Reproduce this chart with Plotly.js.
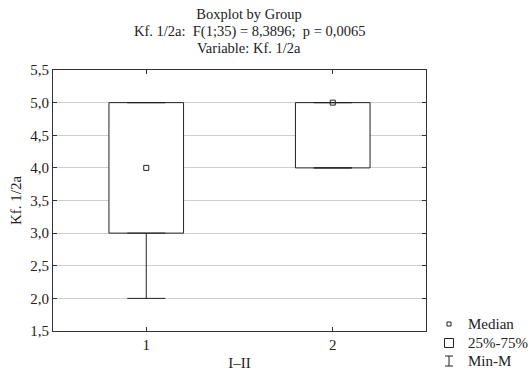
<!DOCTYPE html>
<html>
<head>
<meta charset="utf-8">
<script src="https://cdn.plot.ly/plotly-3.0.1.min.js"></script>
<style>html,body{margin:0;padding:0;background:#fff;}#chart{width:532px;height:371px;}</style>
</head>
<body>
<div id="chart"></div>
<script>
// Data
const groups = ['1', '2'];
const minVals = [2, 4];
const q1Vals = [3, 4];
const medianVals = [4, 5];
const q3Vals = [5, 5];
const maxVals = [5, 5];
const yTicks = [1.5, 2.0, 2.5, 3.0, 3.5, 4.0, 4.5, 5.0, 5.5];
const legendLabels = ['Median', '25%-75%', 'Min-M'];
const titleLines = ['Boxplot by Group', 'Kf. 1/2a:  F(1;35) = 8,3896;  p = 0,0065', 'Variable: Kf. 1/2a'];

const FONT = 'Liberation Serif, Times New Roman, serif';
const FS = 15;
const TFS = 14.5;
const INK = '#222';

const boxTrace = {
  type: 'bar', x: groups,
  y: q3Vals.map((v, i) => v - q1Vals[i]),
  base: q1Vals, width: 0.4,
  marker: {color: '#fff', line: {color: INK, width: 1}},
  showlegend: false, hoverinfo: 'skip'
};
const lowerWhisker = {
  type: 'scatter', mode: 'markers', x: groups, y: q1Vals,
  marker: {size: 0, opacity: 0},
  error_y: {type: 'data', symmetric: false, array: q1Vals.map(() => 0),
            arrayminus: q1Vals.map((v, i) => v - minVals[i]),
            width: 19, thickness: 1, color: INK},
  showlegend: false, hoverinfo: 'skip'
};
const upperWhisker = {
  type: 'scatter', mode: 'markers', x: groups, y: q3Vals,
  marker: {size: 0, opacity: 0},
  error_y: {type: 'data', symmetric: false,
            array: maxVals.map((v, i) => v - q3Vals[i]),
            arrayminus: q3Vals.map(() => 0),
            width: 19, thickness: 1, color: INK},
  showlegend: false, hoverinfo: 'skip'
};
const medianTrace = {
  type: 'scatter', mode: 'markers', x: groups, y: medianVals,
  marker: {symbol: 'square-open', size: 5, color: INK, line: {width: 1, color: INK}},
  showlegend: false, hoverinfo: 'skip'
};

// plot area: left 53, right 426, top 70, bottom 331
const L = 53, R = 426, T = 70, B = 331;
const px2x = p => (p - L) / (R - L);
const py2y = p => (B - p) / (B - T);
const legRows = [324, 343, 361];
const symX = px2x(449);
const textX = px2x(466);
const titleRows = [14, 31, 48];
const titleX = px2x(249);

const annotations = legendLabels.map((t, i) => ({
  text: t, xref: 'paper', yref: 'paper', x: textX, y: py2y(legRows[i]),
  xanchor: 'left', yanchor: 'middle', showarrow: false,
  font: {family: FONT, size: FS, color: INK}
})).concat(titleLines.slice(1).map((t, i) => ({
  text: t, xref: 'paper', yref: 'paper', x: titleX, y: py2y(titleRows[i + 1]),
  xanchor: 'center', yanchor: 'middle', showarrow: false,
  font: {family: FONT, size: TFS, color: INK}
})));

const shapes = [
  // Median symbol
  {type: 'rect', xref: 'paper', yref: 'paper', xsizemode: 'pixel', ysizemode: 'pixel',
   xanchor: symX, yanchor: py2y(legRows[0]), x0: -2, x1: 2, y0: -2, y1: 2,
   line: {color: INK, width: 1}, fillcolor: 'rgba(0,0,0,0)'},
  // 25-75 symbol
  {type: 'rect', xref: 'paper', yref: 'paper', xsizemode: 'pixel', ysizemode: 'pixel',
   xanchor: symX, yanchor: py2y(legRows[1]), x0: -4.5, x1: 4.5, y0: -4.5, y1: 4.5,
   line: {color: INK, width: 1}, fillcolor: 'rgba(0,0,0,0)'},
  // Min-Max symbol (I-beam)
  {type: 'line', xref: 'paper', yref: 'paper', xsizemode: 'pixel', ysizemode: 'pixel',
   xanchor: symX, yanchor: py2y(legRows[2]), x0: 0, x1: 0, y0: -5, y1: 5,
   line: {color: INK, width: 1}},
  {type: 'line', xref: 'paper', yref: 'paper', xsizemode: 'pixel', ysizemode: 'pixel',
   xanchor: symX, yanchor: py2y(legRows[2]), x0: -4, x1: 4, y0: -5, y1: -5,
   line: {color: INK, width: 1}},
  {type: 'line', xref: 'paper', yref: 'paper', xsizemode: 'pixel', ysizemode: 'pixel',
   xanchor: symX, yanchor: py2y(legRows[2]), x0: -4, x1: 4, y0: 5, y1: 5,
   line: {color: INK, width: 1}}
];

const layout = {
  width: 532, height: 371,
  margin: {l: L, r: 532 - R, t: T, b: 371 - B, pad: 0},
  paper_bgcolor: '#fff', plot_bgcolor: '#fff',
  separators: ', ',
  font: {family: FONT, size: FS, color: INK},
  title: {
    text: titleLines[0],
    font: {family: FONT, size: TFS, color: INK},
    x: 249 / 532, xanchor: 'center', xref: 'container',
    y: 1 - titleRows[0] / 371, yanchor: 'middle', yref: 'container'
  },
  showlegend: false,
  xaxis: {
    type: 'category', range: [-0.5, 1.5],
    showline: true, linecolor: '#333', linewidth: 1, mirror: 'ticks',
    ticks: 'inside', ticklen: 4, tickcolor: '#333',
    showgrid: false, zeroline: false,
    tickfont: {family: FONT, size: FS, color: INK},
    title: {text: 'I–II', font: {family: FONT, size: FS, color: INK}, standoff: 6}
  },
  yaxis: {
    range: [1.5, 5.5], tickvals: yTicks, tickformat: '.1f',
    showline: true, linecolor: '#333', linewidth: 1, mirror: 'ticks',
    ticks: 'inside', ticklen: 4, tickcolor: '#333',
    showgrid: true, gridcolor: '#cfcfcf', gridwidth: 1, zeroline: false,
    tickfont: {family: FONT, size: FS, color: INK},
    title: {text: 'Kf. 1/2a', font: {family: FONT, size: FS, color: INK}, standoff: 5}
  },
  annotations: annotations,
  shapes: shapes,
  bargap: 0
};

Plotly.newPlot('chart', [boxTrace, lowerWhisker, upperWhisker, medianTrace], layout,
  {displayModeBar: false, staticPlot: true});
</script>
</body>
</html>
